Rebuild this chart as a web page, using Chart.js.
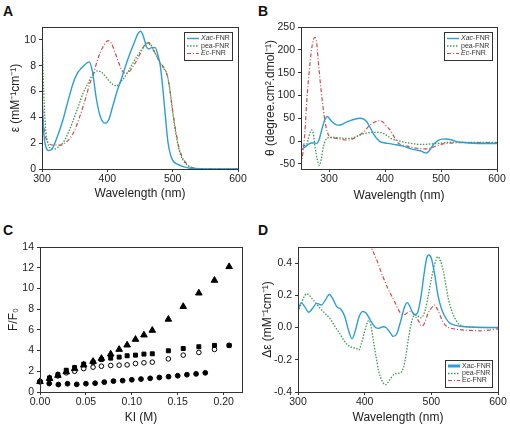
<!DOCTYPE html>
<html>
<head>
<meta charset="utf-8">
<script src="https://cdn.jsdelivr.net/npm/chart.js@4.4.1/dist/chart.umd.min.js"></script>
<style>
  body { margin: 0; background: #fff; width: 510px; height: 429px; position: relative; overflow: hidden; }
  canvas { position: absolute; }
  .lbl { position: absolute; font: bold 14px Arial, "Liberation Sans", sans-serif; line-height: 14px; color: #111; }
</style>
</head>
<body>
<div class="lbl" style="left:3px;top:4px">A</div>
<div class="lbl" style="left:258px;top:4px">B</div>
<div class="lbl" style="left:3px;top:223px">C</div>
<div class="lbl" style="left:258px;top:223px">D</div>
<canvas id="chartA" width="255" height="215" style="left:0;top:0"></canvas>
<canvas id="chartB" width="255" height="215" style="left:255px;top:0"></canvas>
<canvas id="chartC" width="255" height="214" style="left:0;top:215px"></canvas>
<canvas id="chartD" width="255" height="214" style="left:255px;top:215px"></canvas>
<script>
// ---- data ----
const legendItalic = ['Xac', '', 'Ec'];
const legendRest = ['-FNR', 'pea-FNR', '-FNR'];

// A: absorbance spectra
const absXacWl = [300,303,306,310,316,322,332,340,348,355,360,366,372,377,383,389,396,402,409,416,422,428,435,442,447,451,455,460,464,468,473,477,481,485,489,493,497,501,508,516,525,540,560,600];
const absXac   = [5.2,2.6,1.7,1.42,1.6,2.3,3.8,5.3,6.7,7.5,7.8,8.1,8.3,7.6,5.5,4.1,3.55,3.8,5.0,6.2,7.05,8.0,9.0,9.9,10.5,10.67,10.3,9.45,9.3,9.4,9.4,8.9,8.0,6.2,4.0,2.0,1.05,0.6,0.35,0.18,0.07,0.02,0,0];
const absPeaWl = [300,302,305,309,314,320,326,333,341,348,356,363,370,376,381,386,392,399,406,414,420,430,438,445,452,458,464,469,473,477,481,486,491,495,499,504,508,512,517,522,528,540,560,600];
const absPea   = [11.2,7,3.5,2.0,1.6,1.55,1.75,2.1,2.9,3.8,4.9,5.9,6.6,7.2,7.5,7.6,7.45,7.05,6.65,6.43,6.7,7.4,8.1,8.7,9.2,9.6,9.78,9.4,8.97,8.6,8.2,7.8,7.4,6.4,4.8,3.0,1.9,1.1,0.6,0.3,0.12,0.03,0,0];
const absEcWl  = [300,302,305,309,313,320,328,336,343,350,356,362,368,373,379,384,389,395,401,406,412,417,422,428,433,440,446,452,457,460,464,469,473,477,481,486,490,494,498,502,506,510,515,520,526,535,550,600];
const absEc    = [6.0,3.8,2.6,2.05,1.9,1.85,1.85,2.05,2.4,3.0,3.8,4.7,5.7,6.6,7.4,8.3,9.0,9.6,9.95,9.75,9.0,8.3,7.67,7.42,7.5,8.0,8.5,9.1,9.6,9.87,9.7,9.3,9.0,8.6,8.25,7.9,7.5,6.7,5.3,3.8,2.6,1.6,0.9,0.5,0.2,0.06,0.01,0];

// B: CD spectra
const cdXacWl = [250,256,263,269,274,278,282,287,292,297,301,305,310,316,322,330,338,346,355,361,367,373,379,385,391,400,409,420,430,440,450,458,465,470,474,479,486,491,496,503,510,518,528,540,558,580,600];
const cdXac   = [-19,-14,-7,-4,-4,-5,2,24.5,45,54,49,43,38,35,36,41,45,48,50,49,43,31,17,6,-1,-4,-5.5,-8,-10.5,-14,-18,-20,-22,-25,-26,-21,-8,-2,2.5,4.5,4.8,3,-1,-3,-4.6,-5,-5];
const cdPeaWl = [250,255,260,263,266,269,272,275,279,283,286,290,293,296,302,310,320,330,338,346,354,361,370,379,388,397,405,412,421,430,439,450,460,468,478,488,498,510,520,528,545,570,600];
const cdPea   = [-10.5,-10,-8,5,18,24.5,16,-12,-40,-53,-40,-12,0,6,8,8,7,6,6,9,13,16,18.5,19.3,19,17,11,5,2,-1,-3.5,-5.5,-7,-7,-6.5,-5.5,-4.6,-3,-2,-2,-2.5,-3,-3];
const cdEcWl  = [250,254,257,260,263,266,270,273,275,278,282,286,290,294,299,305,314,322,330,336,344,355,364,373,382,391,398,404,409,415,420,424,430,440,450,457,466,474,480,486,495,504,515,528,545,570,600];
const cdEc    = [-52,-20,20,83,130,170,210,225,227,215,160,110,68,35,13.5,8,6,4,2.5,2.6,6,13.5,23,35,42,45,40,31,24.5,12,2,-4.6,-8,-11,-14,-15.5,-16.5,-17,-16,-13,-9,-6,-4.5,-3.5,-3,-3,-3];

// C: KI quenching
const kiA = [0,0.0104,0.0195,0.0286,0.0377,0.0476,0.0578,0.0669,0.077,0.0862,0.0949,0.104,0.1132,0.1223,0.1398,0.156,0.173,0.19,0.206];
const ffTriangle = [1.0,1.3,1.6,1.95,2.25,2.6,2.95,3.24,3.66,4.11,4.53,5.08,5.5,5.95,7.02,8.25,9.55,10.78,12.1];
const ffSquare   = [1.0,1.36,1.68,2.1,2.36,2.69,2.88,3.14,3.27,3.37,3.5,3.56,3.66,3.69,3.98,4.2,4.37,4.5,4.5];
const ffOpen     = [1.0,1.25,1.55,1.85,2.0,2.26,2.4,2.49,2.56,2.59,2.62,2.75,2.82,2.88,3.2,3.56,3.82,4.11,4.5];
const kiB = [0,0.01,0.02,0.03,0.04,0.05,0.06,0.07,0.08,0.09,0.10,0.11,0.12,0.13,0.14,0.15,0.16,0.17,0.18];
const ffDot      = [1.0,0.82,0.72,0.8,0.74,0.8,0.85,0.95,1.05,1.1,1.18,1.25,1.32,1.4,1.48,1.57,1.67,1.75,1.85];

// D: difference spectra
const diffXacWl = [300,305,310,316,322,328,335,341,347,352,358,364,370,376,381,386,391,397,402,408,414,420,428,432,438,443,448,454,460,464,469,474,479,484,489,493,496,500,505,510,515,520,527,535,550,600];
const diffXac   = [0.11,0.155,0.13,0.095,0.12,0.15,0.14,0.17,0.205,0.18,0.13,0.115,0.07,-0.02,-0.07,-0.02,0.06,0.10,0.09,0.05,0.01,-0.005,0.005,0.0,-0.03,-0.055,-0.04,0.04,0.13,0.155,0.12,0.08,0.09,0.18,0.33,0.43,0.45,0.43,0.33,0.2,0.12,0.07,0.03,0.015,0.005,0.0];
const diffPeaWl = [300,305,309,313,317,321,327,333,340,348,355,363,369,375,382,388,391,395,399,403,406,409,413,417,421,426,431,435,440,444,449,454,458,462,466,470,475,479,483,487,491,495,499,503,507,510,514,518,522,526,530,535,543,555,575,600];
const diffPea   = [0.097,0.15,0.19,0.21,0.2,0.18,0.15,0.12,0.09,0.056,0.01,-0.04,-0.08,-0.11,-0.125,-0.13,-0.14,-0.1,-0.04,0.02,0.045,0.02,-0.08,-0.18,-0.27,-0.33,-0.355,-0.34,-0.31,-0.29,-0.285,-0.28,-0.25,-0.17,-0.06,0.03,0.077,0.075,0.06,0.07,0.11,0.19,0.28,0.36,0.42,0.44,0.41,0.35,0.26,0.17,0.11,0.06,0.015,0.005,0.0,0.0];
const diffEcWl  = [405,410,415,420,425,430,435,440,445,450,455,460,465,469,473,477,481,485,488,491,495,500,505,509,513,517,521,526,531,540,550,560,573,588,600];
const diffEc    = [0.58,0.5,0.45,0.4,0.34,0.29,0.24,0.2,0.16,0.115,0.085,0.08,0.095,0.1,0.09,0.065,0.04,0.01,0.015,0.04,0.09,0.12,0.14,0.115,0.077,0.04,0.015,0.0,-0.006,-0.012,-0.016,-0.018,-0.02,-0.015,-0.008];

// ---- styling ----
const BLUE = '#2a9fd8', GREEN = '#3a9a50', RED = '#d2494b';
const FONT = 'Arial, "Liberation Sans", sans-serif';
const tickFont = { family: FONT, size: 10.5 };
const titleFont = { family: FONT, size: 12 };
const TXT = '#222';

function pts(xs, ys) { return xs.map((x, i) => ({ x: x, y: ys[i] })); }

function spectra(xs, ys, kind) {
  const s = {
    xac: { borderColor: BLUE, borderWidth: 1.4, borderDash: [] },
    pea: { borderColor: GREEN, borderWidth: 1.3, borderDash: [1.5, 1.5] },
    ec:  { borderColor: RED, borderWidth: 1.2, borderDash: [4, 2, 1, 2] }
  }[kind];
  return Object.assign({ data: pts(xs, ys), pointRadius: 0, fill: false, cubicInterpolationMode: 'monotone' }, s);
}

// frame around plot + boxed legend inside plot
Chart.register({
  id: 'panelExtras',
  afterDraw(chart, args, opts) {
    const ctx = chart.ctx, a = chart.chartArea;
    ctx.save();
    ctx.strokeStyle = '#333';
    ctx.lineWidth = 1;
    ctx.setLineDash([]);
    ctx.strokeRect(Math.round(a.left) + 0.5, Math.round(a.top) + 0.5, Math.round(a.right - a.left), Math.round(a.bottom - a.top));
    const lg = opts.legend;
    if (lg) {
      ctx.fillStyle = '#fff';
      ctx.fillRect(lg.x, lg.y, lg.w, lg.h);
      ctx.strokeStyle = '#333';
      ctx.strokeRect(lg.x + 0.5, lg.y + 0.5, lg.w, lg.h);
      ctx.textBaseline = 'middle';
      chart.data.datasets.forEach((ds, i) => {
        const y = lg.rows[i];
        ctx.strokeStyle = ds.borderColor;
        ctx.lineWidth = (lg.thick && i === 0) ? 3 : ds.borderWidth;
        ctx.setLineDash(ds.borderDash || []);
        ctx.beginPath();
        ctx.moveTo(lg.x + 3, y);
        ctx.lineTo(lg.x + 15, y);
        ctx.stroke();
        ctx.setLineDash([]);
        ctx.fillStyle = '#333';
        let tx = lg.x + 17;
        const it = legendItalic[i];
        if (it) {
          ctx.font = (lg.italic ? 'italic ' : '') + '7px ' + FONT;
          ctx.fillText(it, tx, y);
          tx += ctx.measureText(it).width;
        }
        ctx.font = '7px ' + FONT;
        ctx.fillText(legendRest[i], tx, y);
      });
    }
    ctx.restore();
  }
});

function makeScales(o) {
  const grid = { drawOnChartArea: false, drawTicks: true, tickLength: 3, color: '#333' };
  return {
    x: {
      type: 'linear', min: o.xmin, max: o.xmax,
      afterFit: s => { s.height = o.xh; },
      afterBuildTicks: s => { s.ticks = o.xticks.map(v => ({ value: v })); },
      ticks: { font: tickFont, color: TXT, padding: 1, maxRotation: 0, autoSkip: false, callback: o.xfmt || (v => v) },
      grid: grid, border: { display: false },
      title: { display: true, text: o.xtitle, font: titleFont, color: TXT, padding: { top: 0, bottom: o.xtp } }
    },
    y: {
      type: 'linear', min: o.ymin, max: o.ymax,
      afterFit: s => { s.width = o.yw; },
      afterBuildTicks: s => { s.ticks = o.yticks.map(v => ({ value: v })); },
      ticks: { font: tickFont, color: TXT, padding: 3, autoSkip: false, callback: o.yfmt || (v => v) },
      grid: grid, border: { display: false },
      title: { display: true, text: o.ytitle, font: titleFont, color: TXT, padding: { top: o.ytp, bottom: 0 } }
    }
  };
}

function baseOptions(o, legend) {
  return {
    responsive: false, animation: false, devicePixelRatio: 1,
    layout: { padding: { left: 0, top: o.top, right: o.right, bottom: 0 } },
    plugins: { legend: { display: false }, tooltip: { enabled: false }, panelExtras: { legend: legend } },
    scales: makeScales(o)
  };
}

// A
new Chart(document.getElementById('chartA'), {
  type: 'line',
  data: { datasets: [
    spectra(absXacWl, absXac, 'xac'),
    spectra(absPeaWl, absPea, 'pea'),
    spectra(absEcWl, absEc, 'ec')
  ] },
  options: baseOptions({
    top: 27, right: 17, yw: 42, xh: 46,
    xmin: 300, xmax: 600, xticks: [300, 400, 500, 600], xtitle: 'Wavelength (nm)', xtp: 14,
    ymin: 0, ymax: 11, yticks: [0, 2, 4, 6, 8, 10], ytitle: 'ε (mM⁻¹cm⁻¹)', ytp: 8
  }, { x: 184, y: 32, w: 48, h: 28, rows: [38.5, 46, 53.5], italic: true })
});

// B
new Chart(document.getElementById('chartB'), {
  type: 'line',
  data: { datasets: [
    spectra(cdXacWl, cdXac, 'xac'),
    spectra(cdPeaWl, cdPea, 'pea'),
    spectra(cdEcWl, cdEc, 'ec')
  ] },
  options: baseOptions({
    top: 27, right: 13, yw: 46, xh: 46,
    xmin: 250, xmax: 600, xticks: [300, 400, 500, 600], xtitle: 'Wavelength (nm)', xtp: 12,
    ymin: -61, ymax: 250, yticks: [-50, 0, 50, 100, 150, 200, 250], ytitle: 'θ (degree.cm².dmol⁻¹)', ytp: 8
  }, { x: 189, y: 32, w: 48, h: 28, rows: [38.5, 46, 53.5], italic: true })
});

// C
function marker(xs, ys, style, r, fill) {
  return { data: pts(xs, ys), pointStyle: style, pointRadius: r, pointBackgroundColor: fill, pointBorderColor: '#000',
    pointBorderWidth: 1, showLine: false, clip: false };
}
new Chart(document.getElementById('chartC'), {
  type: 'scatter',
  data: { datasets: [
    marker(kiA, ffTriangle, 'triangle', 3.8, '#000'),
    marker(kiA, ffSquare, 'rect', 2.8, '#000'),
    marker(kiA, ffOpen, 'circle', 2.3, '#fff'),
    marker(kiB, ffDot, 'circle', 2.4, '#000')
  ] },
  options: baseOptions({
    top: 32, right: 13, yw: 40, xh: 37,
    xmin: 0, xmax: 0.22, xticks: [0, 0.05, 0.1, 0.15, 0.2], xfmt: v => v.toFixed(2), xtitle: 'KI (M)', xtp: 4,
    ymin: 0, ymax: 14, yticks: [0, 2, 4, 6, 8, 10, 12, 14], ytitle: 'F/F₀', ytp: 6
  }, null)
});

// D
new Chart(document.getElementById('chartD'), {
  type: 'line',
  data: { datasets: [
    spectra(diffXacWl, diffXac, 'xac'),
    spectra(diffPeaWl, diffPea, 'pea'),
    spectra(diffEcWl, diffEc, 'ec')
  ] },
  options: baseOptions({
    top: 32, right: 12, yw: 43, xh: 37,
    xmin: 300, xmax: 600, xticks: [300, 400, 500, 600], xtitle: 'Wavelength (nm)', xtp: 4,
    ymin: -0.4, ymax: 0.5, yticks: [-0.4, -0.2, 0, 0.2, 0.4], yfmt: v => v.toFixed(1), ytitle: 'Δε (mM⁻¹cm⁻¹)', ytp: 5
  }, { x: 190, y: 145, w: 47, h: 27, rows: [151, 158.5, 165.5], italic: false, thick: true })
});
</script>
</body>
</html>
